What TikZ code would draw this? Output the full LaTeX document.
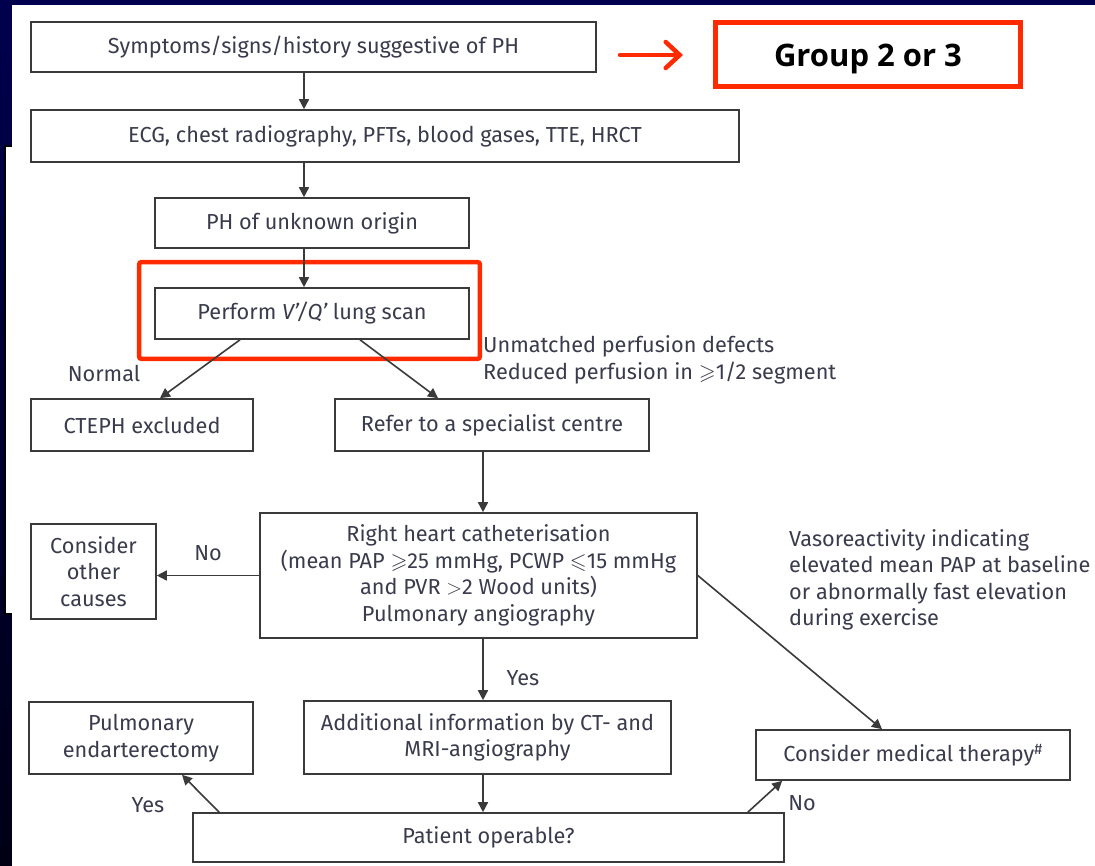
\documentclass[tikz,border=0pt]{standalone}
\usepackage{fontspec}
\usepackage{amssymb}
\setmainfont{Fira Sans}
\newfontfamily\groupfont{Open Sans}
\usetikzlibrary{arrows.meta, calc}
\definecolor{NavyTop}{HTML}{00004E}
\definecolor{NavyBottom}{HTML}{000014}
\definecolor{AlertRed}{HTML}{FF2A00}
\definecolor{BoxLine}{HTML}{3A3A3A}
\definecolor{InkGray}{HTML}{3A3B4C}

\tikzset{
    flowbox/.style={draw=BoxLine, line width=1.6pt, fill=white, align=center,
        inner sep=0pt, text=InkGray, font=\fontsize{21.7}{26.5}\selectfont},
    flowarrow/.style={draw=BoxLine, line width=1.6pt,
        -{Triangle[length=10pt,width=10pt]}},
    flowlabel/.style={text=InkGray, inner sep=0pt,
        font=\fontsize{21.7}{26.5}\selectfont}
}

\begin{document}
\begin{tikzpicture}[x=1pt, y=-1pt]
\useasboundingbox (0,0) rectangle (1095,866);
\shade[top color=NavyTop, bottom color=NavyBottom] (0,0) rectangle (1095,866);
\filldraw[fill=white, draw=black, line width=2pt] (5,146) rectangle (20,614);
\fill[white] (12,5) rectangle (1095,866);

\node[flowbox, minimum width=565pt, minimum height=50pt] (symptoms) at (313.5,47)
    {Symptoms/signs/history suggestive of PH};
\node[flowbox, minimum width=708pt, minimum height=52pt] (ecg) at (385,136)
    {ECG, chest radiography, PFTs, blood gases, TTE, HRCT};
\node[flowbox, minimum width=314pt, minimum height=50pt] (unknown) at (312,223)
    {PH of unknown origin};
\node[flowbox, minimum width=314pt, minimum height=51pt] (vqscan) at (312,313.5)
    {Perform {\itshape V'/Q'} lung scan};
\node[flowbox, minimum width=222pt, minimum height=52pt] (excluded) at (142,425)
    {CTEPH excluded};
\node[flowbox, minimum width=314pt, minimum height=52pt] (refer) at (492,425)
    {Refer to a specialist centre};
\node[flowbox, minimum width=437pt, minimum height=125pt] (rhc) at (478.5,575.5)
    {Right heart catheterisation\\(mean PAP $\geqslant$25 mmHg, PCWP $\leqslant$15 mmHg\\and PVR $>$2 Wood units)\\Pulmonary angiography};
\node[flowbox, minimum width=125pt, minimum height=95pt] (other) at (93.5,571.5)
    {Consider\\other\\causes};
\node[flowbox, minimum width=224pt, minimum height=72pt] (endart) at (141,738)
    {Pulmonary\\endarterectomy};
\node[flowbox, minimum width=367pt, minimum height=73pt] (addinfo) at (487.5,737.5)
    {Additional information by CT- and\\MRI-angiography};
\node[flowbox, minimum width=314pt, minimum height=50pt] (medical) at (913,755)
    {Consider medical therapy\textsuperscript{\#}};
\node[flowbox, minimum width=591pt, minimum height=49pt] (operable) at (488.5,837.5)
    {Patient operable?};

\node[draw=AlertRed, line width=5pt, fill=white, minimum width=305pt, minimum height=64pt,
    font=\groupfont\bfseries\fontsize{31}{34}\selectfont] (group) at (868,54.5)
    {\raisebox{-5pt}[\height][\depth]{Group 2 or 3}};
\draw[AlertRed, line width=4.5pt, rounded corners=2pt]
    ($(vqscan.north west)+(-15,-25)$) rectangle ($(vqscan.south east)+(10,19)$);
\coordinate (arrowtail) at (620,55);
\coordinate (arrowhead) at (683,55);
\draw[AlertRed, line width=4.5pt, line cap=round,
    -{Straight Barb[length=14pt,width=26pt,line cap=round]}] (arrowtail) -- (arrowhead);

\coordinate (spine) at (304,0);
\coordinate (trunk) at (483,0);
\draw[flowarrow] (symptoms.south -| spine) -- (ecg.north -| spine);
\draw[flowarrow] (ecg.south -| spine) -- (unknown.north -| spine);
\draw[flowarrow] (unknown.south -| spine) -- (vqscan.north -| spine);
\draw[flowarrow] ($(vqscan.south)+(-72,0)$) -- ($(excluded.north)+(18,0)$);
\draw[flowarrow] ($(vqscan.south)+(48,0)$) -- ($(refer.north)+(-54,0)$);
\draw[flowarrow] (refer.south -| trunk) -- (rhc.north -| trunk);
\draw[flowarrow] (rhc.west) -- (rhc.west -| other.east);
\draw[flowarrow] (rhc.east) -- ($(medical.north)+(-31,0)$);
\draw[flowarrow] (rhc.south -| trunk) -- (addinfo.north -| trunk);
\draw[flowarrow] (addinfo.south -| trunk) -- (operable.north -| trunk);
\draw[flowarrow] ($(operable.north west)+(27,0)$) -- ($(endart.south)+(41,0)$);
\draw[flowarrow] ($(operable.north east)+(-37,0)$) -- ($(medical.south west)+(27,0)$);

\node[flowlabel] (normal) at (104,373) {Normal};
\node[flowlabel, anchor=west, align=left] (unmatched) at (483,360)
    {Unmatched perfusion defects\\Reduced perfusion in $\geqslant$1/2 segment};
\node[flowlabel] (nolabel) at (208,553) {No};
\node[flowlabel] (yesmid) at (523,678) {Yes};
\node[flowlabel, anchor=west, align=left] (vasonote) at (789,580)
    {Vasoreactivity indicating\\elevated mean PAP at baseline\\or abnormally fast elevation\\during exercise};
\node[flowlabel] (yesleft) at (148,805) {Yes};
\node[flowlabel] (noright) at (802,803) {No};
\end{tikzpicture}
\end{document}
